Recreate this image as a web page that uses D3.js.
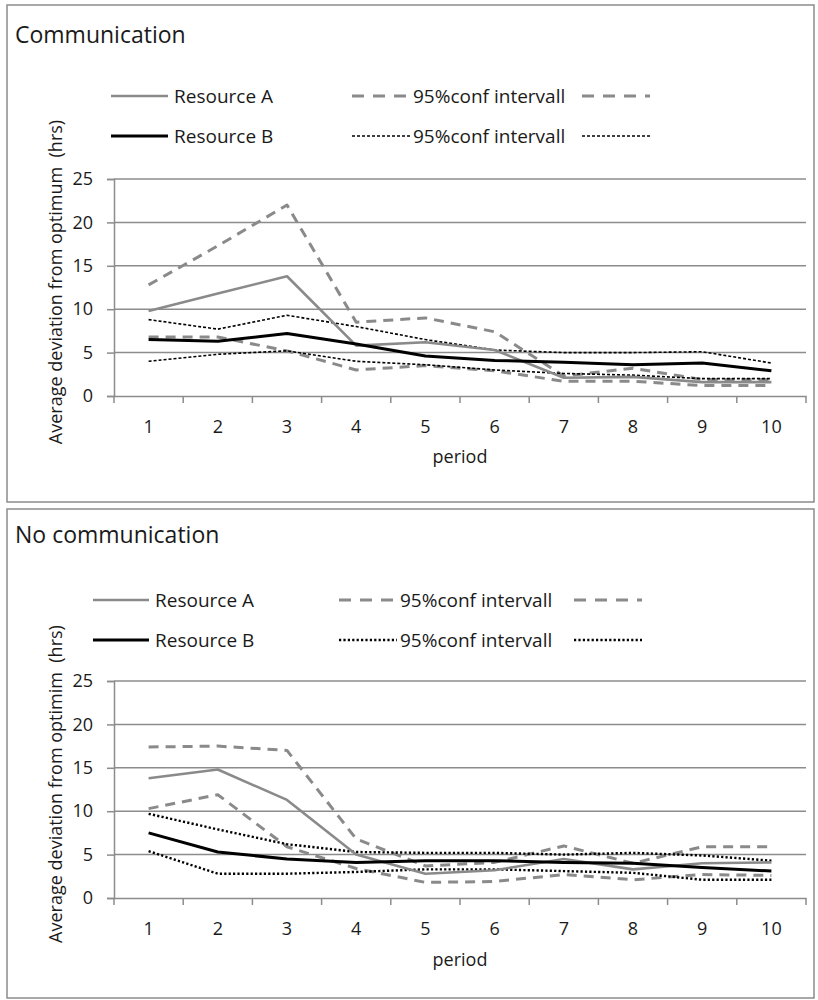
<!DOCTYPE html>
<html><head><meta charset="utf-8">
<script src="https://cdn.jsdelivr.net/npm/d3@7/dist/d3.min.js"></script>
<style>
body{margin:0;background:#fff}
svg{display:block}
text{font-family:"Open Sans",sans-serif;fill:#1a1a1a}
</style>
</head><body>
<svg id="chart" width="818" height="1000"></svg>
<script>
// ---------- data ----------
const periods = [1,2,3,4,5,6,7,8,9,10];
const yTicks = [0,5,10,15,20,25];

// Communication
const commA   = [9.8, 11.8, 13.8, 5.8, 6.2, 5.3, 2.1, 2.2, 1.6, 1.6];
const commAHi = [12.8, 17.3, 22.0, 8.5, 9.0, 7.4, 2.3, 3.2, 1.9, 1.9];
const commALo = [6.8, 6.8, 5.2, 3.0, 3.5, 2.9, 1.7, 1.7, 1.2, 1.2];
const commB   = [6.5, 6.3, 7.2, 6.0, 4.6, 4.1, 3.9, 3.6, 3.8, 2.9];
const commBHi = [8.8, 7.7, 9.3, 8.0, 6.5, 5.3, 5.0, 5.0, 5.1, 3.8];
const commBLo = [4.0, 4.8, 5.2, 4.0, 3.6, 3.0, 2.6, 2.4, 2.0, 2.0];

// No communication
const noA   = [13.8, 14.8, 11.3, 5.0, 2.8, 3.2, 4.5, 3.3, 4.0, 4.1];
const noAHi = [17.4, 17.5, 17.0, 6.8, 3.7, 4.1, 6.0, 4.0, 5.9, 5.9];
const noALo = [10.3, 11.9, 5.9, 3.4, 1.8, 1.9, 2.7, 2.1, 2.7, 2.6];
const noB   = [7.5, 5.3, 4.5, 4.1, 4.3, 4.3, 4.1, 4.0, 3.5, 3.1];
const noBHi = [9.7, 7.9, 6.2, 5.3, 5.2, 5.2, 5.0, 5.2, 4.9, 4.3];
const noBLo = [5.4, 2.8, 2.8, 3.0, 3.3, 3.3, 3.1, 2.9, 2.1, 2.1];

const titles = ["Communication", "No communication"];
const yTitles = ["Average deviation from optimum  (hrs)", "Average deviation from optimim  (hrs)"];
const xTitle = "period";
const legendA = "Resource A", legendB = "Resource B", legendCI = "95%conf intervall";

// ---------- styles ----------
const GRID = "#8c8c8c";
const GREY = "#8a8a8a";
const styleA   = {stroke: GREY, width: 2.6, dash: null};
const styleACI = {stroke: GREY, width: 3, dash: "10,7"};
const styleACIleg = {stroke: GREY, width: 3, dash: "12,9"};
const styleB   = {stroke: "#000", width: 3, dash: null};
const styleBCIdash = {stroke: "#000", width: 1.6, dash: "3,2"};
const styleBCIdot  = {stroke: "#000", width: 2.4, dash: "2.2,2.2"};

const svg = d3.select("#chart");

function panel(cfg) {
  const g = svg.append("g");
  // panel frame
  g.append("rect").attr("x", 7).attr("y", cfg.frameTop)
    .attr("width", 807).attr("height", cfg.frameBottom - cfg.frameTop)
    .attr("fill", "none").attr("stroke", GRID).attr("stroke-width", 1.5);

  const left = 114, right = 806, top = cfg.plotTop, bottom = cfg.plotBottom;
  const x = d3.scaleBand().domain(periods).range([left, right]);
  const y = d3.scaleLinear().domain([0, 25]).range([bottom, top]);

  // gridlines
  g.append("g").selectAll("line").data(yTicks.filter(d => d > 0)).join("line")
    .attr("x1", left).attr("x2", right)
    .attr("y1", d => y(d)).attr("y2", d => y(d))
    .attr("stroke", GRID).attr("stroke-width", 1.5);

  // y axis
  const ya = g.append("g").attr("transform", `translate(${left},0)`)
    .call(d3.axisLeft(y).tickValues(yTicks).tickSize(7).tickPadding(14));
  ya.select(".domain").attr("stroke", GRID).attr("stroke-width", 1.5);
  ya.selectAll(".tick line").attr("stroke", GRID).attr("stroke-width", 1.5);
  ya.selectAll("text").style("font-size", "18px").attr("fill", "#1a1a1a");

  // x axis
  const xa = g.append("g").attr("transform", `translate(0,${bottom})`)
    .call(d3.axisBottom(x).tickSize(0).tickPadding(24));
  xa.select(".domain").attr("stroke", GRID).attr("stroke-width", 1.5);
  xa.selectAll("text").style("font-size", "18px").attr("fill", "#1a1a1a");
  // tick marks at category boundaries
  const bounds = periods.map(p => x(p)).concat([right]);
  g.append("g").selectAll("line").data(bounds).join("line")
    .attr("x1", d => d).attr("x2", d => d)
    .attr("y1", bottom).attr("y2", bottom + 7)
    .attr("stroke", GRID).attr("stroke-width", 1.5);

  // axis titles
  g.append("text").attr("x", (left + right) / 2).attr("y", cfg.xTitleY)
    .attr("text-anchor", "middle").style("font-size", "18px").text(xTitle);
  g.append("text")
    .attr("transform", `translate(61.5,${cfg.yTitleCenter}) rotate(-90)`)
    .attr("text-anchor", "middle").style("font-size", "18px")
    .style("white-space", "pre").text(cfg.yTitle);

  // chart title
  g.append("text").attr("x", 15).attr("y", cfg.titleY)
    .style("font-size", "23px").text(cfg.title);

  // series
  const line = d3.line().x((d, i) => x(periods[i]) + x.bandwidth() / 2).y(d => y(d));
  const series = [
    [cfg.aLo, styleACI], [cfg.aHi, styleACI],
    [cfg.bLo, cfg.bciStyle], [cfg.bHi, cfg.bciStyle],
    [cfg.a, styleA], [cfg.b, styleB]
  ];
  series.forEach(([vals, st]) => {
    g.append("path").datum(vals).attr("d", line)
      .attr("fill", "none").attr("stroke", st.stroke)
      .attr("stroke-width", st.width)
      .attr("stroke-dasharray", st.dash)
      .attr("stroke-linejoin", "round");
  });

  // legend
  const L = cfg.legend;
  function sample(x1, x2, yy, st) {
    g.append("line").attr("x1", x1).attr("x2", x2).attr("y1", yy).attr("y2", yy)
      .attr("stroke", st.stroke).attr("stroke-width", st.width)
      .attr("stroke-dasharray", st.dash);
  }
  function label(xx, yy, t) {
    g.append("text").attr("x", xx).attr("y", yy + 6.5).style("font-size", "19px").text(t);
  }
  sample(L.lineX1, L.lineX2, L.row1, styleA);
  label(L.lineX2 + 6, L.row1, legendA);
  sample(L.lineX1, L.lineX2, L.row2, styleB);
  label(L.lineX2 + 6, L.row2, legendB);
  sample(L.ciX1, L.ciX2, L.row1, styleACIleg);
  label(L.ciX2 + 3, L.row1, legendCI);
  sample(L.ciX3, L.ciX4, L.row1, styleACIleg);
  sample(L.ciX1, L.ciX2, L.row2, cfg.bciStyle);
  label(L.ciX2 + 3, L.row2, legendCI);
  sample(L.ciX3, L.ciX4, L.row2, cfg.bciStyle);
}

panel({
  frameTop: 5, frameBottom: 502, plotTop: 179, plotBottom: 396,
  title: titles[0], titleY: 43, yTitle: yTitles[0], yTitleCenter: 282, xTitleY: 463,
  a: commA, aHi: commAHi, aLo: commALo, b: commB, bHi: commBHi, bLo: commBLo,
  bciStyle: styleBCIdash,
  legend: {row1: 96, row2: 136, lineX1: 111, lineX2: 168, ciX1: 352, ciX2: 410, ciX3: 582, ciX4: 650}
});

panel({
  frameTop: 509, frameBottom: 998, plotTop: 681, plotBottom: 898,
  title: titles[1], titleY: 543, yTitle: yTitles[1], yTitleCenter: 784, xTitleY: 966,
  a: noA, aHi: noAHi, aLo: noALo, b: noB, bHi: noBHi, bLo: noBLo,
  bciStyle: styleBCIdot,
  legend: {row1: 600, row2: 640, lineX1: 93, lineX2: 149, ciX1: 339, ciX2: 397, ciX3: 574, ciX4: 642}
});
</script>
</body></html>
